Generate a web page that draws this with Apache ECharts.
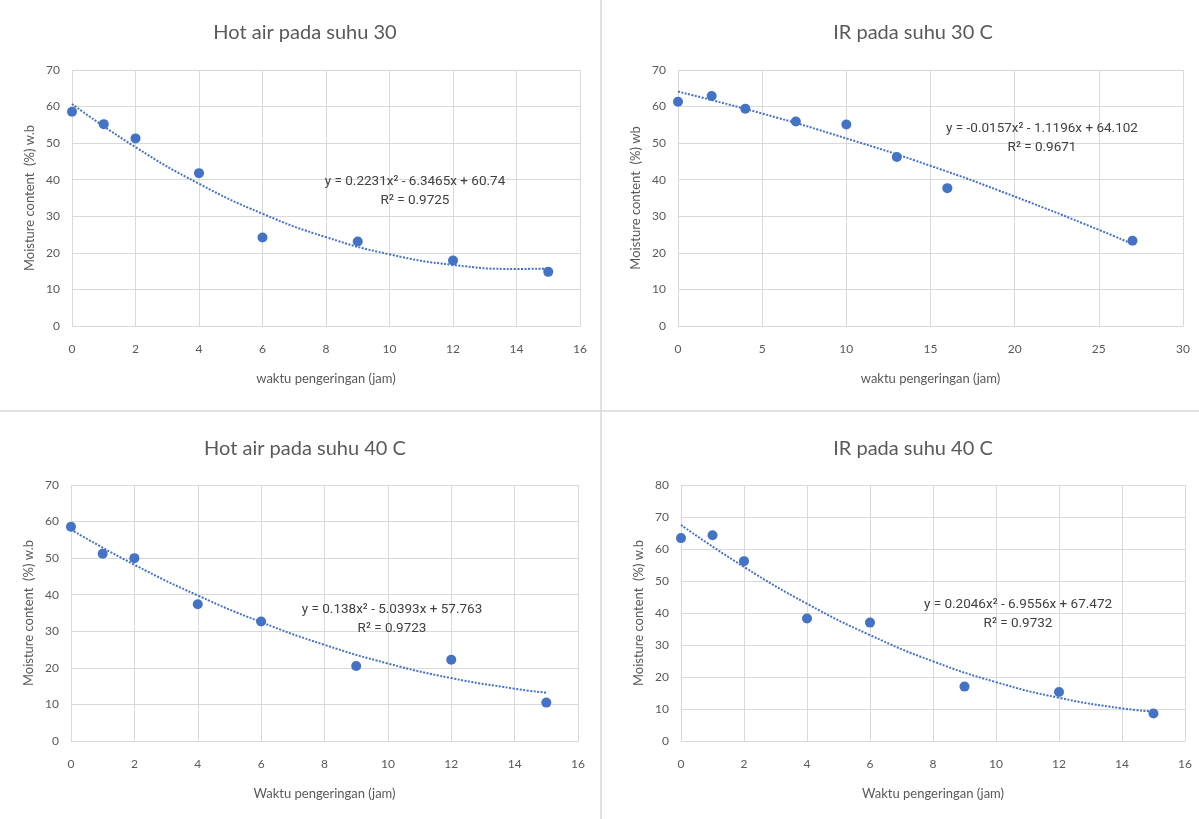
<!DOCTYPE html>
<html>
<head>
<meta charset="utf-8">
<style>
  html, body { margin: 0; padding: 0; background: #fff; }
  #chart { width: 1199px; height: 819px; }
</style>
<script src="https://cdn.jsdelivr.net/npm/echarts@6/dist/echarts.min.js"></script>
</head>
<body>
<div id="chart"></div>
<script>
// --- data ---
const titles = ['Hot air pada suhu 30', 'IR pada suhu 30 C', 'Hot air pada suhu 40 C', 'IR pada suhu 40 C'];
const yNames = ['Moisture content  (%) w.b', 'Moisture content  (%) wb', 'Moisture content  (%) w.b', 'Moisture content  (%) w.b'];
const xNames = ['waktu pengeringan (jam)', 'waktu pengeringan (jam)', 'Waktu pengeringan (jam)', 'Waktu pengeringan (jam)'];

// hot air 30
const ha30X = [0, 1, 2, 4, 6, 9, 12, 15];
const ha30Y = [58.6, 55.2, 51.3, 41.8, 24.2, 23.1, 17.9, 14.8];
const ha30TrendX = [0, 2, 4, 6, 8, 10, 12, 14, 15];
const ha30TrendY = [60.7, 48.9, 38.9, 30.7, 24.3, 19.6, 16.7, 15.6, 15.7];

// IR 30
const ir30X = [0, 2, 4, 7, 10, 13, 16, 27];
const ir30Y = [61.3, 62.9, 59.4, 55.9, 55.1, 46.2, 37.7, 23.3];
const ir30TrendX = [0, 5, 10, 15, 20, 25, 27];
const ir30TrendY = [64.1, 58.1, 51.3, 43.8, 35.4, 26.3, 22.4];

// hot air 40
const ha40X = [0, 1, 2, 4, 6, 9, 12, 15];
const ha40Y = [58.6, 51.2, 50.0, 37.4, 32.7, 20.5, 22.2, 10.5];
const ha40TrendX = [0, 2, 4, 6, 8, 10, 12, 14, 15];
const ha40TrendY = [57.8, 48.2, 39.8, 32.5, 26.3, 21.2, 17.2, 14.3, 13.2];

// IR 40
const ir40X = [0, 1, 2, 4, 6, 9, 12, 15];
const ir40Y = [63.4, 64.3, 56.2, 38.3, 37.0, 17.0, 15.3, 8.6];
const ir40TrendX = [0, 2, 4, 6, 8, 10, 12, 14, 15];
const ir40TrendY = [67.5, 54.4, 42.9, 33.1, 24.9, 18.4, 13.5, 10.2, 9.2];

const equations = [
  ['y = 0.2231x² - 6.3465x + 60.74', 'R² = 0.9725'],
  ['y = -0.0157x² - 1.1196x + 64.102', 'R² = 0.9671'],
  ['y = 0.138x² - 5.0393x + 57.763', 'R² = 0.9723'],
  ['y = 0.2046x² - 6.9556x + 67.472', 'R² = 0.9732'],
];

const xMax = [16, 30, 16, 16];
const xStep = [2, 5, 2, 2];
const yMax = [70, 70, 70, 80];

const points = [
  [ha30X, ha30Y], [ir30X, ir30Y], [ha40X, ha40Y], [ir40X, ir40Y],
];
const trends = [
  [ha30TrendX, ha30TrendY], [ir30TrendX, ir30TrendY], [ha40TrendX, ha40TrendY], [ir40TrendX, ir40TrendY],
];

function zip(xs, ys) {
  return xs.map((x, i) => [x, ys[i]]);
}

// --- layout ---
const grids = [
  { left: 72, top: 70, width: 508, height: 256 },
  { left: 678, top: 70, width: 505, height: 256 },
  { left: 71, top: 485, width: 507, height: 256 },
  { left: 681, top: 485, width: 504, height: 256 },
];
const titlePos = [[300, 18], [908, 18], [300, 434], [908, 434]];
const eqPos = [[415, 181], [1042, 128], [392, 609], [1018, 604]];

const FONT = 'Lato, "Open Sans", sans-serif';
const TXT = '#595959';
const BLUE = '#4472C4';

const chart = echarts.init(document.getElementById('chart'));

const option = {
  backgroundColor: '#fff',
  animation: false,
  title: titles.map((t, i) => ({
    text: t,
    left: titlePos[i][0],
    top: titlePos[i][1],
    textAlign: 'center',
    textStyle: { fontFamily: FONT, fontSize: 20, fontWeight: 'normal', color: TXT },
  })),
  grid: grids,
  xAxis: grids.map((g, i) => ({
    type: 'value',
    gridIndex: i,
    min: 0,
    max: xMax[i],
    interval: xStep[i],
    name: xNames[i],
    nameLocation: 'middle',
    nameGap: 46,
    nameTextStyle: { fontFamily: FONT, fontSize: 13, color: TXT },
    axisLine: { show: true, lineStyle: { color: '#d9d9d9' } },
    axisTick: { show: false },
    axisLabel: { fontFamily: FONT, fontSize: 12, color: TXT, margin: 17 },
    splitLine: { show: true, lineStyle: { color: '#d9d9d9' } },
  })),
  yAxis: grids.map((g, i) => ({
    type: 'value',
    gridIndex: i,
    min: 0,
    max: yMax[i],
    interval: 10,
    name: yNames[i],
    nameLocation: 'middle',
    nameGap: 36,
    nameTextStyle: { fontFamily: FONT, fontSize: 13, color: TXT },
    axisLine: { show: false },
    axisTick: { show: false },
    axisLabel: { fontFamily: FONT, fontSize: 12, color: TXT, margin: 12 },
    splitLine: { show: true, lineStyle: { color: '#d9d9d9' } },
  })),
  series: [
    ...trends.map((t, i) => ({
      type: 'line',
      xAxisIndex: i,
      yAxisIndex: i,
      data: zip(t[0], t[1]),
      smooth: true,
      showSymbol: false,
      lineStyle: { color: BLUE, width: 2, type: [2, 1.5] },
      z: 2,
    })),
    ...points.map((p, i) => ({
      type: 'scatter',
      xAxisIndex: i,
      yAxisIndex: i,
      data: zip(p[0], p[1]),
      symbolSize: 10,
      itemStyle: { color: BLUE, opacity: 1 },
      z: 3,
    })),
  ],
  graphic: [
    { type: 'line', shape: { x1: 601, y1: 0, x2: 601, y2: 819 }, style: { stroke: '#d9d9d9', lineWidth: 1.5 } },
    { type: 'line', shape: { x1: 0, y1: 411, x2: 1199, y2: 411 }, style: { stroke: '#d9d9d9', lineWidth: 1.5 } },
    ...equations.map((e, i) => ({
      type: 'text',
      x: eqPos[i][0],
      y: eqPos[i][1] - 9,
      z: 10,
      style: {
        text: e[0] + '\n' + e[1],
        align: 'center',
        verticalAlign: 'top',
        fontFamily: 'Roboto, "Liberation Sans", sans-serif',
        fontSize: 13.5,
        lineHeight: 19,
        fill: '#404040',
      },
    })),
  ],
};

chart.setOption(option);
</script>
</body>
</html>
